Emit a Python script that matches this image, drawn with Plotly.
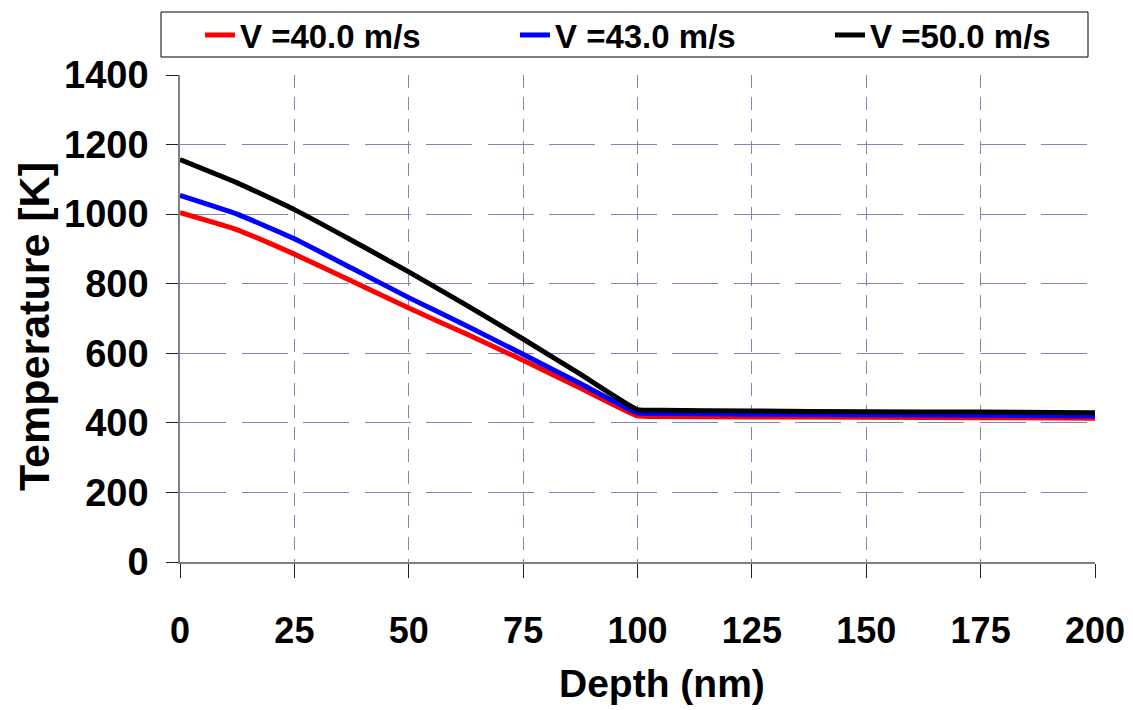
import plotly.graph_objects as go

depth = [0, 12.5, 25, 37.5, 50, 62.5, 75, 87.5, 100, 105, 125, 150, 175, 200]
T_40 = [1004, 955, 885, 808, 730, 656, 580, 500, 420, 418, 417, 416, 415, 413]
T_43 = [1054, 1000, 929, 845, 760, 680, 597, 513, 429, 427, 425, 423, 422, 420]
T_50 = [1157, 1090, 1013, 925, 834, 739, 641, 540, 438, 436, 434, 432, 431, 429]
series_names = ["V =40.0 m/s", "V =43.0 m/s", "V =50.0 m/s"]
series_colors = ["#ff0000", "#0000ff", "#000000"]
x_ticks = [0, 25, 50, 75, 100, 125, 150, 175, 200]
y_ticks = [0, 200, 400, 600, 800, 1000, 1200, 1400]

FONT = "Liberation Sans, Arial, sans-serif"
GRID = "#8282b4"

fig = go.Figure()
for name, ys, col in zip(series_names, [T_40, T_43, T_50], series_colors):
    fig.add_trace(go.Scatter(x=depth, y=ys, mode="lines", name=name,
                             line=dict(color=col, width=5, shape="spline", smoothing=0.4)))

fig.update_layout(
    width=1125, height=702,
    margin=dict(l=172, r=38, t=67, b=148, autoexpand=False),
    paper_bgcolor="white", plot_bgcolor="white",
    showlegend=True,
    legend=dict(orientation="h", xref="paper", yref="paper",
                x=1.0546, y=1.0821, xanchor="right", yanchor="middle",
                bgcolor="rgba(0,0,0,0)", borderwidth=0,
                entrywidth=270, entrywidthmode="pixels",
                font=dict(family=FONT, size=33, color="black", weight="bold")),
    xaxis=dict(range=[0, 200], tickvals=x_ticks, ticktext=[str(v) for v in x_ticks],
               showline=True, linecolor="#808080", linewidth=2,
               ticks="outside", ticklen=14, tickcolor="#202020", tickwidth=1,
               ticklabelstandoff=22,
               tickfont=dict(family=FONT, size=36, color="black", weight="bold"),
               showgrid=True, gridcolor=GRID, gridwidth=1, griddash="13px,9px",
               zeroline=False, automargin=False),
    yaxis=dict(range=[0, 1400], tickvals=y_ticks,
               showline=True, linecolor="#808080", linewidth=1.5,
               ticks="outside", ticklen=12, tickcolor="#202020", tickwidth=1,
               ticklabelstandoff=10,
               tickfont=dict(family=FONT, size=38, color="black", weight="bold"),
               showgrid=True, gridcolor=GRID, gridwidth=1, griddash="46px,15.5px",
               zeroline=False, automargin=False),
    shapes=[
        dict(type="rect", xref="paper", yref="paper",
             x0=-0.02077, x1=0.99235, y0=1.03696, y1=1.12936,
             line=dict(color="black", width=1), fillcolor="white", layer="below"),
    ],
    annotations=[
        dict(text="Depth (nm)", xref="paper", yref="paper", x=0.5268, y=-0.2485,
             xanchor="center", yanchor="middle", showarrow=False,
             font=dict(family=FONT, size=39, color="black", weight="bold")),
        dict(text="Temperature [K]", xref="paper", yref="paper", x=-0.1596, y=0.4846,
             xanchor="center", yanchor="middle", showarrow=False, textangle=-90,
             font=dict(family=FONT, size=43, color="black", weight="bold")),
    ],
)

fig.write_html("out.html")
